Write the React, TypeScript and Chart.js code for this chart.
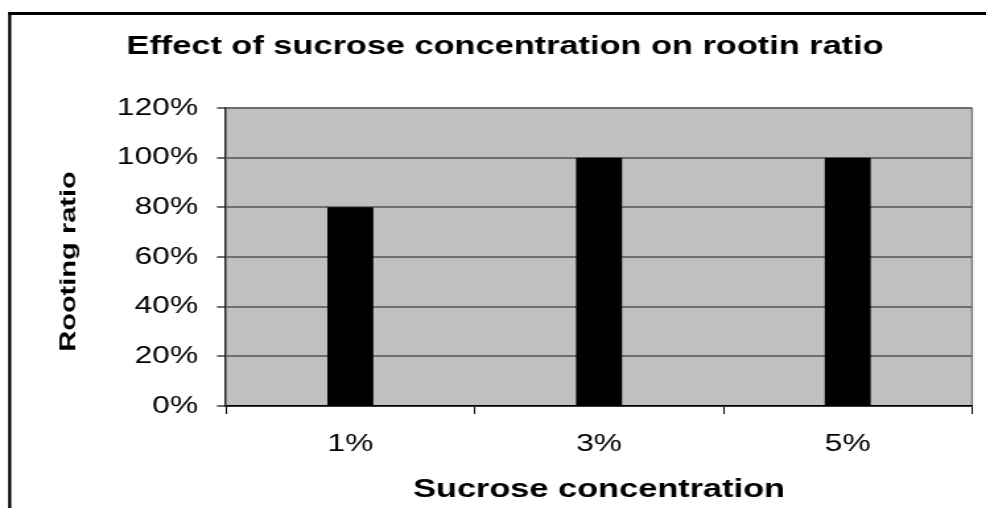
import { useEffect, useRef } from 'react';
import { Chart, registerables } from 'chart.js';

Chart.register(...registerables);

const categories = ['1%', '3%', '5%'];
const rootingRatio = [80, 100, 100];
const yTicks = [0, 20, 40, 60, 80, 100, 120];
const titleText = 'Effect of sucrose concentration on rootin ratio';
const xTitle = 'Sucrose concentration';
const yTitle = 'Rooting ratio';

const FAMILY = '"Liberation Sans", Arial, sans-serif';
// the reference renders all text (and the whole drawing) widened along its reading direction
const STRETCH = 1.32;
const PAGE_W = 986;
const PAGE_H = 508;
const CANVAS_W = PAGE_W / STRETCH;

const framePlugin = {
  id: 'frame',
  beforeDraw(chart: any) {
    const { ctx, chartArea: a, width, height } = chart;
    ctx.save();
    ctx.fillStyle = '#ffffff';
    ctx.fillRect(0, 0, width, height);
    ctx.strokeStyle = '#000000';
    ctx.lineWidth = 2.3;
    ctx.beginPath();
    ctx.moveTo(7.35, height + 10);
    ctx.lineTo(7.35, 13.5);
    ctx.lineTo(width + 10, 13.5);
    ctx.stroke();
    ctx.lineWidth = 3;
    ctx.beginPath();
    ctx.moveTo(6.2, 13.5);
    ctx.lineTo(width + 10, 13.5);
    ctx.stroke();
    ctx.fillStyle = '#C0C0C0';
    ctx.fillRect(a.left, a.top, a.right - a.left, a.bottom - a.top);
    ctx.strokeStyle = '#808080';
    ctx.lineWidth = 1.5;
    ctx.beginPath();
    ctx.moveTo(a.right, a.top);
    ctx.lineTo(a.right, a.bottom);
    ctx.stroke();
    ctx.restore();
  },
  afterDraw(chart: any) {
    const { ctx, chartArea: a } = chart;
    ctx.save();
    ctx.translate(75 / STRETCH, (a.top + a.bottom) / 2 + 4.5);
    ctx.scale(1 / STRETCH, 1);
    ctx.rotate(-Math.PI / 2);
    ctx.scale(STRETCH, 1);
    ctx.font = `bold 22px ${FAMILY}`;
    ctx.fillStyle = '#000000';
    ctx.textAlign = 'center';
    ctx.textBaseline = 'alphabetic';
    ctx.fillText(yTitle, 0, 0);
    ctx.restore();
  },
};

export default function App() {
  const ref = useRef<HTMLCanvasElement | null>(null);

  useEffect(() => {
    if (!ref.current) return;
    const chart = new Chart(ref.current, {
      type: 'bar',
      data: {
        labels: categories,
        datasets: [
          {
            label: 'Rooting ratio',
            data: rootingRatio,
            backgroundColor: '#000000',
            borderWidth: 0,
            barPercentage: 0.185,
            categoryPercentage: 1,
          },
        ],
      },
      options: {
        animation: false,
        responsive: true,
        maintainAspectRatio: false,
        layout: { padding: { left: 28.8, right: 10.6, top: 0, bottom: 0 } },
        plugins: {
          legend: { display: false },
          tooltip: { enabled: false },
          title: {
            display: true,
            text: titleText,
            color: '#000000',
            font: { family: FAMILY, size: 26, weight: 'bold' },
            padding: { top: 31.1, bottom: 45.7 },
          },
        },
        scales: {
          x: {
            offset: true,
            grid: {
              offset: true,
              drawOnChartArea: false,
              drawTicks: true,
              tickLength: 8,
              color: '#000000',
              lineWidth: 1,
            },
            border: { display: true, color: '#000000', width: 1.5 },
            ticks: { color: '#000000', font: { family: FAMILY, size: 24 }, padding: 16 },
            title: {
              display: true,
              text: xTitle,
              color: '#000000',
              font: { family: FAMILY, size: 26, weight: 'bold' },
              padding: { top: 0, bottom: 3 },
            },
            afterFit: (s: any) => {
              s.height = 102;
            },
          },
          y: {
            min: 0,
            max: 120,
            afterBuildTicks: (s: any) => {
              s.ticks = yTicks.map((value) => ({ value }));
            },
            ticks: {
              callback: (v: any) => v + '%',
              color: '#000000',
              font: { family: FAMILY, size: 24 },
              padding: 14.4,
            },
            grid: { color: '#6e6e6e', lineWidth: 2, tickLength: 6.8 },
            border: { display: true, color: '#222222', width: 1.5 },
            title: { display: false, text: yTitle },
            afterFit: (s: any) => {
              s.width = 142.4;
            },
          },
        },
      },
      plugins: [framePlugin],
    });
    return () => chart.destroy();
  }, []);

  return (
    <div
      style={{
        position: 'absolute',
        left: 0,
        top: 0,
        width: CANVAS_W,
        height: PAGE_H,
        transform: `scaleX(${STRETCH})`,
        transformOrigin: '0 0',
      }}
    >
      <canvas ref={ref} />
    </div>
  );
}
